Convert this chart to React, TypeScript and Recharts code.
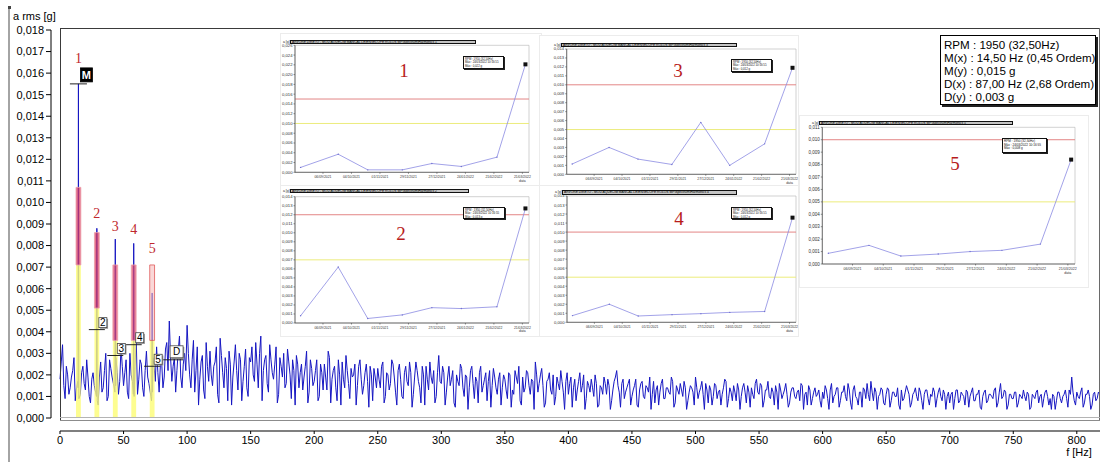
import React from 'react';
import {
  ComposedChart,
  LineChart,
  Line,
  XAxis,
  YAxis,
  ReferenceArea,
  ReferenceLine,
  ReferenceDot,
} from 'recharts';

// ---------------- main spectrum data (values in 0.0001 g, 1 Hz step) ----------------
// even frequencies: 0, 2, 4 ... 818 Hz
const even000 = [18, 34, 9, 20, 14, 22, 8, 17, 11, 24, 13, 19, 7, 21, 12, 6, 26, 14, 30, 10, 23, 16, 28, 11, 33];
const even050 = [15, 27, 9, 20, 13, 36, 18, 25, 10, 31, 16, 8, 24, 33, 12, 26, 19, 35, 45, 17, 28, 22, 38, 14, 30];
const even100 = [43, 20, 27, 12, 33, 18, 29, 9, 24, 31, 15, 26, 11, 37, 21, 28, 8, 25, 19, 34, 13, 27, 17, 32, 10];
const even150 = [26, 20, 35, 14, 38, 22, 29, 12, 27, 18, 33, 11, 24, 30, 16, 26, 9, 22, 29, 14, 25, 19, 31, 12, 23];
const even200 = [17, 27, 10, 21, 25, 13, 28, 18, 24, 8, 20, 26, 14, 22, 9, 19, 25, 15, 27, 11, 21, 17, 24, 8, 19];
const even250 = [23, 14, 26, 10, 20, 16, 25, 12, 22, 18, 9, 24, 15, 21, 11, 26, 17, 7, 20, 24, 13, 19, 22, 10, 29];
const even300 = [16, 21, 12, 24, 18, 7, 20, 15, 23, 10, 19, 14, 24, 9, 17, 21, 12, 18, 8, 22, 15, 19, 11, 21, 14];
const even350 = [18, 9, 20, 13, 22, 16, 8, 19, 14, 21, 11, 17, 26, 12, 20, 15, 7, 18, 13, 20, 10, 16, 22, 12, 17];
const even400 = [11, 19, 14, 8, 17, 12, 20, 9, 15, 18, 10, 16, 6, 14, 19, 11, 15, 8, 17, 22, 12, 16, 9, 14, 18];
const even450 = [10, 15, 6, 13, 17, 9, 14, 19, 11, 7, 15, 12, 18, 9, 14, 11, 17, 7, 13, 16, 10, 14, 8, 15, 12];
const even500 = [19, 9, 14, 11, 16, 7, 13, 10, 15, 12, 6, 14, 17, 9, 12, 15, 8, 13, 10, 16, 7, 12, 14, 9, 18];
const even550 = [11, 15, 8, 13, 10, 14, 6, 12, 16, 9, 13, 11, 7, 14, 10, 12, 8, 15, 11, 6, 13, 9, 14, 11, 8];
const even600 = [12, 15, 9, 13, 7, 11, 14, 8, 12, 10, 16, 7, 13, 10, 6, 12, 14, 9, 11, 17, 8, 12, 10, 14, 7];
const even650 = [11, 13, 8, 12, 10, 6, 13, 9, 15, 11, 7, 12, 10, 14, 8, 11, 13, 6, 10, 12, 9, 14, 8, 11, 10];
const even700 = [7, 12, 9, 13, 8, 11, 6, 12, 10, 14, 8, 11, 5, 10, 13, 8, 11, 9, 14, 7, 16, 10, 12, 6, 11];
const even750 = [9, 12, 7, 10, 13, 8, 11, 5, 10, 12, 7, 11, 9, 13, 6, 4, 10, 8, 12, 7, 11, 9, 13, 19, 8];
const even800 = [12, 9, 14, 7, 11, 10, 6, 12, 9, 11];

// odd frequencies: 1, 3, 5 ... 817 Hz
const odd000 = [26, 15, 24, 11, 19, 28, 14, 9, 21, 16, 27, 10, 18, 15, 25, 19, 12, 22, 8, 27, 19, 13, 21, 17, 24];
const odd050 = [21, 12, 30, 17, 24, 11, 27, 14, 22, 19, 12, 28, 17, 21, 25, 14, 32, 22, 28, 24, 12, 31, 19, 25, 22];
const odd100 = [30, 14, 36, 22, 6, 26, 13, 35, 17, 20, 24, 33, 7, 29, 14, 23, 31, 6, 26, 22, 30, 8, 24, 14, 28];
const odd150 = [33, 17, 25, 30, 8, 27, 16, 34, 21, 25, 7, 28, 19, 14, 32, 20, 27, 6, 25, 21, 13, 24, 7, 27, 15];
const odd200 = [22, 8, 25, 13, 19, 31, 7, 22, 14, 27, 6, 18, 29, 16, 23, 20, 6, 24, 18, 15, 25, 5, 20, 23, 14];
const odd250 = [18, 24, 7, 21, 13, 27, 19, 6, 25, 10, 21, 17, 26, 5, 19, 22, 14, 24, 6, 18, 26, 16, 7, 21, 17];
const odd300 = [24, 6, 19, 15, 22, 5, 17, 25, 14, 20, 4, 22, 16, 19, 7, 24, 15, 21, 17, 5, 23, 14, 18, 6, 20];
const odd350 = [13, 21, 5, 11, 19, 24, 6, 12, 22, 15, 18, 4, 20, 16, 23, 5, 17, 21, 11, 6, 19, 13, 17, 4, 21];
const odd400 = [16, 5, 18, 13, 21, 15, 4, 17, 12, 14, 20, 5, 15, 11, 16, 18, 4, 13, 19, 15, 5, 18, 12, 16, 6];
const odd450 = [13, 18, 5, 16, 10, 15, 12, 4, 17, 13, 6, 16, 9, 14, 12, 19, 5, 15, 11, 13, 17, 4, 12, 14, 6];
const odd500 = [14, 12, 17, 4, 13, 15, 6, 16, 9, 13, 11, 18, 5, 14, 8, 12, 16, 4, 14, 12, 15, 5, 11, 16, 12];
const odd550 = [16, 5, 13, 17, 9, 12, 15, 4, 13, 11, 16, 5, 12, 14, 9, 13, 16, 4, 12, 15, 6, 12, 10, 13, 5];
const odd600 = [9, 13, 4, 16, 10, 14, 5, 12, 15, 8, 13, 4, 15, 9, 12, 5, 13, 16, 8, 12, 14, 4, 11, 13, 6];
const odd650 = [14, 5, 12, 10, 14, 4, 8, 12, 13, 5, 11, 14, 8, 12, 4, 13, 9, 11, 14, 5, 12, 10, 13, 4, 12];
const odd700 = [11, 4, 13, 7, 12, 10, 13, 5, 12, 8, 11, 13, 4, 12, 7, 11, 10, 13, 5, 12, 9, 13, 4, 11, 9];
const odd750 = [12, 5, 11, 9, 10, 12, 4, 11, 9, 13, 10, 5, 12, 10, 9, 11, 4, 12, 9, 10, 13, 5, 11, 12, 6];
const odd800 = [10, 12, 5, 11, 13, 4, 11, 8, 12];

const evenValues = [
  ...even000, ...even050, ...even100, ...even150, ...even200, ...even250,
  ...even300, ...even350, ...even400, ...even450, ...even500, ...even550,
  ...even600, ...even650, ...even700, ...even750, ...even800,
];
const oddValues = [
  ...odd000, ...odd050, ...odd100, ...odd150, ...odd200, ...odd250,
  ...odd300, ...odd350, ...odd400, ...odd450, ...odd500, ...odd550,
  ...odd600, ...odd650, ...odd700, ...odd750, ...odd800,
];

// harmonics of 14.5 Hz (narrow peaks: base level just left/right of each peak)
const harmonicFreqs = [14.5, 29, 43.5, 58, 72.5];
const harmonicPeaks = [155, 88, 83, 81, 58]; // 0.0001 g
const harmonicBaseLeft = [14, 10, 12, 11, 10];
const harmonicBaseRight = [9, 8, 15, 10, 12];
const peakHalfWidthHz = 0.3;
const harmonicYellowTop = [0.0071, 0.0051, 0.0036, 0.0036, 0.0036];
const harmonicRedTop = [0.0107, 0.0086, 0.0071, 0.0071, 0.0071];
const harmonicLabels = ['1', '2', '3', '4', '5'];
const harmonicLabelY = [0.0167, 0.0095, 0.0089, 0.00875, 0.0079];

// cursors
const cursorLabels = ['M', '2', '3', '4', '5', 'D'];
const cursorFreqs = [14.5, 29, 43.5, 58, 72.5, 87];
const cursorValues = [0.0155, 0.0041, 0.0029, 0.0034, 0.0024, 0.0027];

const xTicks = [0, 50, 100, 150, 200, 250, 300, 350, 400, 450, 500, 550, 600, 650, 700, 750, 800];
const yTicks = [
  0, 0.001, 0.002, 0.003, 0.004, 0.005, 0.006, 0.007, 0.008, 0.009,
  0.01, 0.011, 0.012, 0.013, 0.014, 0.015, 0.016, 0.017, 0.018,
];

const infoLines = [
  'RPM : 1950 (32,50Hz)',
  'M(x) : 14,50 Hz (0,45 Ordem)',
  'M(y) : 0,015 g',
  'D(x) : 87,00 Hz (2,68 Ordem)',
  'D(y) : 0,003 g',
];

// ---------------- trend insets data ----------------
const insetDates = ['15/08/2021', '21/09/2021', '20/10/2021', '23/11/2021', '22/12/2021', '20/01/2022', '24/02/2022', '24/03/2022'];
const insetDateTicks = ['06/09/2021', '04/10/2021', '01/11/2021', '29/11/2021', '27/12/2021', '24/01/2022', '21/02/2022', '21/03/2022'];
const inset1Values = [0.001, 0.0037, 0.0005, 0.0005, 0.0018, 0.0012, 0.0031, 0.0221];
const inset2Values = [0.0008, 0.0062, 0.0005, 0.0009, 0.0017, 0.0016, 0.0018, 0.0127];
const inset3Values = [0.00115, 0.003, 0.0017, 0.0011, 0.0058, 0.001, 0.0034, 0.0119];
const inset4Values = [0.00074, 0.002, 0.0007, 0.00085, 0.00096, 0.0011, 0.0012, 0.0116];
const inset5Values = [0.00086, 0.0015, 0.00064, 0.0008, 0.001, 0.0011, 0.0016, 0.0084];
const insetRedLevels = [0.015, 0.012, 0.01, 0.01, 0.01];
const insetYellowLevels = [0.01, 0.007, 0.005, 0.005, 0.005];
const insetYMax = [0.026, 0.014, 0.014, 0.014, 0.011];
const inset1YTicks = [0, 0.002, 0.004, 0.006, 0.008, 0.01, 0.012, 0.014, 0.016, 0.018, 0.02, 0.022, 0.024, 0.026];
const inset14YTicks = [0, 0.001, 0.002, 0.003, 0.004, 0.005, 0.006, 0.007, 0.008, 0.009, 0.01, 0.011, 0.012, 0.013, 0.014];
const inset5YTicks = [0, 0.001, 0.002, 0.003, 0.004, 0.005, 0.006, 0.007, 0.008, 0.009, 0.01, 0.011];
const insetNames = ['1', '2', '3', '4', '5'];

const insetSeries = [inset1Values, inset2Values, inset3Values, inset4Values, inset5Values];
const insetYTicks = [inset1YTicks, inset14YTicks, inset14YTicks, inset14YTicks, inset5YTicks];

// ---------------- derived tables ----------------
const spectrumMap = new Map<number, number>();
evenValues.forEach((v, i) => spectrumMap.set(i * 2, v));
oddValues.forEach((v, i) => spectrumMap.set(i * 2 + 1, v));
harmonicFreqs.forEach((f, i) => {
  spectrumMap.set(f - peakHalfWidthHz, harmonicBaseLeft[i]);
  spectrumMap.set(f, harmonicPeaks[i]);
  spectrumMap.set(f + peakHalfWidthHz, harmonicBaseRight[i]);
});
const spectrum = [...spectrumMap.entries()]
  .sort((a, b) => a[0] - b[0])
  .map(([f, v]) => ({ f, a: v / 10000 }));

const dayNum = (s: string) => {
  const [d, m, y] = s.split('/').map(Number);
  return Date.UTC(y, m - 1, d) / 86400000;
};
const fmtDay = (n: number) => {
  const dt = new Date(Math.round(n) * 86400000);
  return `${String(dt.getUTCDate()).padStart(2, '0')}/${String(dt.getUTCMonth() + 1).padStart(2, '0')}/${dt.getUTCFullYear()}`;
};
const fmt3 = (v: number) => v.toFixed(3).replace('.', ',');
const tickDays = insetDateTicks.map(dayNum);

// ---------------- layout (page px) ----------------
const X_MIN = -7.08;
const X_MAX = 818.25;
const Y_MIN = -0.000603;
const Y_MAX = 0.018;
const BAR_HALF = 1.9;

type InsetLayout = {
  box: [number, number, number, number];
  plot: [number, number, number, number];
  title: [number, number, number];
  legend: [number, number, number, number];
  big: [number, number];
  yFont: number;
  dateFont: number;
};

const insetLayout: InsetLayout[] = [
  { box: [281, 34, 260, 156], plot: [295, 45.3, 529, 172.3], title: [290, 39.5, 186], legend: [463, 56, 41, 13], big: [404, 70], yFont: 4.2, dateFont: 3.4 },
  { box: [281, 186, 260, 150], plot: [295, 196.7, 529, 323], title: [290, 188.5, 179], legend: [463, 207, 42, 12], big: [401, 233], yFont: 4.2, dateFont: 3.4 },
  { box: [540, 36, 258, 152], plot: [566.7, 49, 796, 174.3], title: [561, 42.5, 176], legend: [731, 59, 41, 13], big: [678, 70], yFont: 4.2, dateFont: 3.4 },
  { box: [540, 186, 258, 150], plot: [567, 196, 796, 322.3], title: [562, 190, 175], legend: [731, 207, 41, 12], big: [679, 218], yFont: 4.2, dateFont: 3.4 },
  { box: [800, 116, 288, 171], plot: [822.3, 127.3, 1075, 264], title: [819, 120.5, 194], legend: [1002, 138, 45, 15], big: [955, 163], yFont: 4.5, dateFont: 3.6 },
];

const redFills = ['#d83a60', '#d83a60', '#dc4a6c', '#dc4a6c', '#f6bcbc'];
const redOpacity = [0.72, 0.72, 0.72, 0.72, 0.6];

const dateTick = (fs: number) => (p: any) => {
  const isLast = Math.abs(p.payload.value - tickDays[tickDays.length - 1]) < 0.5;
  return (
    <g>
      <text x={p.x} y={p.y} dy={fs * 0.9} textAnchor="middle" fontSize={fs} fill="#333">
        {fmtDay(p.payload.value)}
      </text>
      {isLast && (
        <text x={p.x} y={p.y} dy={fs * 2.0} textAnchor="middle" fontSize={fs} fill="#333">
          data
        </text>
      )}
    </g>
  );
};

function Inset({ idx }: { idx: number }) {
  const cfg = insetLayout[idx];
  const values = insetSeries[idx];
  const data = insetDates.map((s, i) => ({ d: dayNum(s), v: values[i] }));
  const [bl, bt, bw, bh] = cfg.box;
  const [pl, pt, pr, pb] = cfg.plot;
  const dMin = data[0].d - 5.5;
  const dMax = data[data.length - 1].d + 3.5;
  const yMax = insetYMax[idx];
  const last = data[data.length - 1];
  const [tl, tt, tw] = cfg.title;
  const [ll, lt, lw, lh] = cfg.legend;
  const legendFs = (lw - 2) / 13.8;
  return (
    <div
      style={{
        position: 'absolute',
        left: bl,
        top: bt,
        width: bw,
        height: bh,
        background: '#fff',
        outline: '1px solid #ececec',
      }}
    >
      <div style={{ position: 'absolute', left: 0, top: 0 }}>
        <LineChart
          width={bw}
          height={bh}
          data={data}
          margin={{ top: pt - bt, right: bl + bw - pr, bottom: 0, left: 0 }}
        >
          <XAxis
            dataKey="d"
            type="number"
            domain={[dMin, dMax]}
            ticks={tickDays}
            interval={0}
            height={bt + bh - pb}
            tickSize={1.5}
            tickMargin={1}
            axisLine={{ stroke: '#444', strokeWidth: 0.7 }}
            tickLine={{ stroke: '#444', strokeWidth: 0.6 }}
            tick={dateTick(cfg.dateFont)}
            allowDataOverflow
          />
          <YAxis
            type="number"
            domain={[0, yMax]}
            ticks={insetYTicks[idx]}
            interval={0}
            width={pl - bl}
            tickSize={1.5}
            tickMargin={1}
            axisLine={{ stroke: '#444', strokeWidth: 0.7 }}
            tickLine={{ stroke: '#444', strokeWidth: 0.6 }}
            tick={{ fontSize: cfg.yFont, fill: '#333' }}
            tickFormatter={fmt3}
            allowDataOverflow
          />
          <ReferenceArea x1={dMin} x2={dMax} y1={0} y2={yMax} fill="none" stroke="#b4b4b4" strokeWidth={0.6} />
          <ReferenceLine y={insetRedLevels[idx]} stroke="#e38686" strokeWidth={1} />
          <ReferenceLine y={insetYellowLevels[idx]} stroke="#ecec7c" strokeWidth={1} />
          <Line
            type="linear"
            dataKey="v"
            stroke="#8a8ae2"
            strokeWidth={0.8}
            dot={{ r: 0.7, fill: '#7070d0', stroke: 'none' }}
            isAnimationActive={false}
          />
          <ReferenceDot
            x={last.d}
            y={last.v}
            r={2}
            shape={(p: any) => <rect x={p.cx - 2} y={p.cy - 2} width={4} height={4} fill="#111" />}
          />
        </LineChart>
      </div>
      <div
        style={{
          position: 'absolute',
          left: tl - bl - 7,
          top: tt - bt,
          fontSize: 3.4,
          lineHeight: '4.5px',
          color: '#222',
        }}
      >
        a [g]
      </div>
      <div
        style={{
          position: 'absolute',
          left: tl - bl,
          top: tt - bt,
          width: tw,
          height: 4.5,
          boxSizing: 'border-box',
          border: '0.8px solid #111',
          background: '#c4c4c4',
          fontSize: 3.3,
          lineHeight: '3.2px',
          color: '#000',
          whiteSpace: 'nowrap',
          overflow: 'hidden',
          paddingLeft: 1,
        }}
      >
        {`ARVORE DIRETO - MOD AQUECIM MANCAL LE/ENVELOPE ROLOS MP\\Spectrum\\Harmonics ${insetNames[idx]}`}
      </div>
      <div
        style={{
          position: 'absolute',
          left: ll - bl,
          top: lt - bt,
          width: lw,
          height: lh,
          boxSizing: 'border-box',
          border: '0.7px solid #111',
          boxShadow: '1px 1px 0 #222',
          background: '#fff',
          fontSize: legendFs,
          lineHeight: `${legendFs * 1.2}px`,
          padding: '0.8px 0 0 1px',
          color: '#111',
          whiteSpace: 'nowrap',
        }}
      >
        <div>RPM : 1950 (32,50Hz)</div>
        <div>Máx : 24/03/2022 10:16:55</div>
        <div>{`Máx : ${fmt3(values[values.length - 1])} g`}</div>
      </div>
      <div
        style={{
          position: 'absolute',
          left: cfg.big[0] - bl,
          top: cfg.big[1] - bt,
          transform: 'translate(-50%, -50%)',
          fontFamily: "'Liberation Serif', 'DejaVu Serif', serif",
          fontSize: 19,
          lineHeight: '19px',
          color: '#b81c1c',
        }}
      >
        {insetNames[idx]}
      </div>
    </div>
  );
}

const cursorShape = (label: string) => (p: any) => {
  const isM = label === 'M';
  const isD = label === 'D';
  const w = isM ? 12 : isD ? 13 : 8;
  const h = isM ? 14 : isD ? 12 : 10;
  const bx = p.cx + (isD ? -0.5 : 2);
  const by = p.cy - 2 - h;
  return (
    <g>
      {!isM && <rect x={bx + 1.2} y={by + 1.2} width={w} height={h} fill="#9a9a9a" />}
      <rect
        x={bx}
        y={by}
        width={w}
        height={h}
        fill={isM ? '#000' : '#fff'}
        stroke={isM ? '#000' : '#444'}
        strokeWidth={0.8}
      />
      <text
        x={bx + w / 2}
        y={by + h / 2}
        dy="0.36em"
        textAnchor="middle"
        fontSize={isM ? 11 : 10}
        fontWeight={isM ? 'bold' : 'normal'}
        fill={isM ? '#fff' : '#000'}
      >
        {label}
      </text>
    </g>
  );
};

const labelShape = (label: string) => (p: any) => (
  <text
    x={p.cx}
    y={p.cy}
    dy="0.35em"
    textAnchor="middle"
    fontSize={14}
    fontFamily="'Liberation Serif', 'DejaVu Serif', serif"
    fill="#c0282d"
  >
    {label}
  </text>
);

export default function App() {
  return (
    <div
      style={{
        position: 'relative',
        width: 1106,
        height: 462,
        background: '#fff',
        overflow: 'hidden',
        fontFamily: "'Liberation Sans', Arial, sans-serif",
      }}
    >
      <style>{'html,body{margin:0;padding:0;background:#fff;}'}</style>

      {/* left gray bracket */}
      <div style={{ position: 'absolute', left: 8, top: 7, width: 2, height: 455, background: '#a4a4a4' }} />
      <div style={{ position: 'absolute', left: 8, top: 6, width: 3, height: 3, background: '#444' }} />

      <div style={{ position: 'absolute', left: 0, top: 0 }}>
        <ComposedChart width={1106} height={462} data={spectrum} margin={{ top: 30, right: 6, bottom: 6, left: 6 }}>
          <XAxis
            dataKey="f"
            type="number"
            domain={[X_MIN, X_MAX]}
            ticks={xTicks}
            interval={0}
            height={25}
            axisLine={false}
            tickLine={{ stroke: '#000' }}
            tickSize={3}
            tick={{ fontSize: 11, fill: '#000' }}
            allowDataOverflow
          />
          <YAxis
            type="number"
            domain={[Y_MIN, Y_MAX]}
            ticks={yTicks}
            interval={0}
            width={45}
            axisLine={false}
            tickLine={{ stroke: '#000' }}
            tickSize={5}
            tick={{ fontSize: 11, fill: '#000' }}
            tickFormatter={fmt3}
            allowDataOverflow
          />
          <ReferenceLine segment={[{ x: X_MIN, y: 0 }, { x: X_MIN, y: Y_MAX }]} stroke="#000" strokeWidth={1} />
          <ReferenceLine segment={[{ x: 0, y: Y_MIN }, { x: X_MAX, y: Y_MIN }]} stroke="#000" strokeWidth={1.2} />
          <Line
            type="linear"
            dataKey="a"
            stroke="#1616c2"
            strokeWidth={1}
            dot={false}
            isAnimationActive={false}
          />
          {harmonicFreqs.map((f, i) => (
            <ReferenceArea
              key={`y${i}`}
              {...({ zIndex: 1500 } as any)}
              x1={f - BAR_HALF}
              x2={f + BAR_HALF}
              y1={0}
              y2={harmonicYellowTop[i]}
              fill="#fcfc74"
              fillOpacity={0.8}
              stroke="none"
            />
          ))}
          {harmonicFreqs.map((f, i) => (
            <ReferenceArea
              key={`r${i}`}
              {...({ zIndex: 1500 } as any)}
              x1={f - BAR_HALF}
              x2={f + BAR_HALF}
              y1={harmonicYellowTop[i]}
              y2={harmonicRedTop[i]}
              fill={redFills[i]}
              fillOpacity={redOpacity[i]}
              stroke={i === 4 ? '#e05a5a' : '#eea0aa'}
              strokeWidth={0.8}
            />
          ))}
          {cursorFreqs.map((f, i) => (
            <ReferenceLine
              key={`cl${i}`}
              {...({ zIndex: 1600 } as any)}
              segment={[
                { x: f - (i === 0 ? 6.7 : 6.3), y: cursorValues[i] },
                { x: f + (i === 5 ? 9.8 : i === 0 ? 6.7 : 6.3), y: cursorValues[i] },
              ]}
              stroke="#222"
              strokeWidth={1}
            />
          ))}
          {cursorFreqs.map((f, i) => (
            <ReferenceDot
              key={`cd${i}`}
              {...({ zIndex: 1700 } as any)}
              x={f}
              y={cursorValues[i]}
              r={1}
              shape={cursorShape(cursorLabels[i])}
            />
          ))}
          {harmonicFreqs.map((f, i) => (
            <ReferenceDot
              key={`hl${i}`}
              {...({ zIndex: 1700 } as any)}
              x={f}
              y={harmonicLabelY[i]}
              r={1}
              shape={labelShape(harmonicLabels[i])}
            />
          ))}
        </ComposedChart>
      </div>

      {/* plot frame */}
      <div style={{ position: 'absolute', left: 60, top: 28, width: 1040, height: 1, background: '#3a3a3a' }} />
      <div style={{ position: 'absolute', left: 60, top: 28, width: 1, height: 392, background: '#3a3a3a' }} />
      <div style={{ position: 'absolute', left: 1099, top: 28, width: 1, height: 392, background: '#6a6a6a' }} />
      <div style={{ position: 'absolute', left: 60, top: 417, width: 1040, height: 1, background: '#b4b4b4' }} />
      <div style={{ position: 'absolute', left: 60, top: 419.5, width: 1040, height: 1.2, background: '#8c8c8c' }} />

      {/* axis titles */}
      <div style={{ position: 'absolute', left: 13, top: 10, fontSize: 11, lineHeight: '13px', color: '#000' }}>
        a rms [g]
      </div>
      <div
        style={{
          position: 'absolute',
          left: 1079,
          top: 446,
          transform: 'translateX(-50%)',
          fontSize: 11,
          lineHeight: '13px',
          color: '#000',
          whiteSpace: 'nowrap',
        }}
      >
        f [Hz]
      </div>

      {[0, 1, 2, 3, 4].map((i) => (
        <Inset key={i} idx={i} />
      ))}

      {/* cursor info box */}
      <div
        style={{
          position: 'absolute',
          left: 940,
          top: 35,
          width: 156,
          height: 70,
          boxSizing: 'border-box',
          border: '1px solid #000',
          boxShadow: '2px 2px 0 #222',
          background: '#fff',
          fontSize: 11.6,
          lineHeight: '13.1px',
          padding: '1.5px 0 0 3px',
          color: '#000',
          whiteSpace: 'nowrap',
        }}
      >
        {infoLines.map((t) => (
          <div key={t}>{t}</div>
        ))}
      </div>
    </div>
  );
}
